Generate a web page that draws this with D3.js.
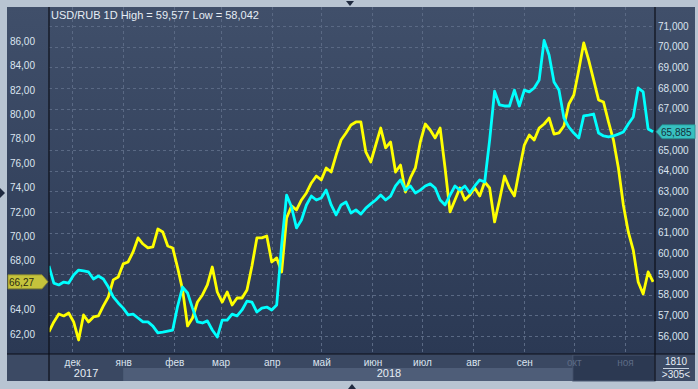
<!DOCTYPE html>
<html>
<head>
<meta charset="utf-8">
<script src="https://cdn.jsdelivr.net/npm/d3@7"></script>
<style>
body { margin: 0; background: #b8c4d2; }
svg { display: block; font-family: "Liberation Sans", Arial, sans-serif; }
</style>
</head>
<body>
<svg width="698" height="389"></svg>
<script>
// one sample every 3 days, 17 Nov 2017 .. 18 Nov 2018
const startDate = new Date(2017, 10, 17);
const dates = d3.range(123).map((i) => d3.timeDay.offset(startDate, i * 3));

// cyan, right axis
const usdRub = [
	59.39, 58.56, 58.47, 58.61, 58.56, 58.95, 59.19, 59.15, 59.10, 58.76,
	58.90, 58.76, 58.37, 57.89, 57.60, 57.35, 57.02, 57.06, 56.87, 56.68,
	56.68, 56.48, 56.15, 56.19, 56.24, 56.29, 57.45, 58.37, 58.08, 57.35,
	56.68, 56.63, 56.73, 56.29, 55.95, 56.77, 56.77, 57.06, 56.97, 57.26,
	57.69, 57.64, 57.16, 57.35, 57.40, 57.26, 57.50, 60.40, 62.82, 62.24,
	61.23, 61.61, 62.34, 62.77, 62.58, 62.68, 63.06, 62.34, 61.86, 62.34,
	62.48, 61.95, 62.10, 61.90, 62.19, 62.39, 62.58, 62.82, 62.58, 62.77,
	63.26, 63.55, 63.06, 63.26, 62.92, 63.06, 63.26, 63.36, 63.16, 62.58,
	62.34, 62.82, 63.26, 63.06, 63.26, 62.92, 63.26, 63.55, 63.45, 65.48,
	67.85, 67.18, 67.13, 67.13, 67.90, 67.13, 67.90, 67.81, 68.00, 68.39,
	70.30, 69.60, 68.29, 67.90, 66.55, 66.11, 65.82, 65.58, 66.65, 66.69,
	66.74, 65.82, 65.68, 65.63, 65.68, 65.77, 65.87, 66.26, 66.60, 68.00,
	67.81, 66.02, 65.885
];

// yellow, left axis
const brent = [
	62.17, 62.99, 63.64, 63.48, 63.72, 62.99, 61.51, 63.56, 62.99, 63.40,
	63.48, 64.30, 65.03, 66.43, 66.67, 67.74, 67.90, 68.72, 69.87, 69.37,
	69.05, 69.13, 70.60, 70.36, 69.21, 69.05, 67.41, 65.61, 62.66, 63.31,
	64.62, 65.20, 66.02, 67.49, 65.44, 64.62, 65.44, 64.38, 64.95, 64.95,
	65.61, 67.57, 69.87, 69.87, 70.03, 67.90, 68.23, 67.08, 71.50, 72.49,
	72.16, 72.98, 73.55, 74.37, 74.94, 74.62, 75.60, 75.27, 76.66, 77.89,
	78.47, 79.12, 79.37, 79.37, 76.91, 76.09, 77.48, 78.87, 77.24, 77.73,
	75.27, 75.84, 73.63, 74.78, 75.60, 77.73, 79.20, 78.71, 78.06, 78.87,
	75.60, 72.00, 72.98, 73.96, 72.98, 73.39, 73.96, 73.31, 74.45, 73.96,
	71.18, 72.98, 74.94, 73.96, 73.31, 75.43, 77.48, 78.30, 77.89, 78.87,
	79.20, 79.69, 78.38, 78.47, 79.04, 80.84, 81.58, 83.62, 85.84, 84.44,
	82.81, 81.17, 81.00, 79.37, 77.89, 75.60, 72.57, 70.36, 68.88, 66.26,
	65.28, 67.08, 66.27
];

const leftTicks = [62, 64, 66, 68, 70, 72, 74, 76, 78, 80, 82, 84, 86];
const rightTicks = d3.range(56, 72);
const monthDates = d3.timeMonth.range(new Date(2017, 11, 1), new Date(2018, 11, 1));
const monthLabels = ["дек", "янв", "фев", "мар", "апр", "май", "июн", "июл", "авг", "сен", "окт", "ноя"];
const years = [
	{ label: "2017", from: new Date(2017, 10, 17), to: new Date(2018, 0, 1) },
	{ label: "2018", from: new Date(2018, 0, 1), to: new Date(2018, 10, 19) }
];
const title = "USD/RUB 1D High = 59,577 Low = 58,042";

const ru = d3.formatLocale({ decimal: ",", thousands: " ", grouping: [3], currency: ["", ""] });
const fmt2 = ru.format(".2f");
const fmt3 = ru.format(".3f");

const svg = d3.select("svg");
const L = 49, R = 655, T = 7, B = 354;

const x = d3.scaleTime().domain([new Date(2017, 11, 1), new Date(2018, 10, 1)]).range([72, 625]);
const yL = d3.scaleLinear().domain([62, 86]).range([334, 41]);
const yR = d3.scaleLinear().domain([56, 71]).range([336, 26]);

const lastBrent = brent[brent.length - 1];
const lastRub = usdRub[usdRub.length - 1];

const defs = svg.append("defs");
const grad = defs.append("linearGradient").attr("id", "bg").attr("x1", 0).attr("y1", 0).attr("x2", 0).attr("y2", 1);
grad.append("stop").attr("offset", 0).attr("stop-color", "#404f6a");
grad.append("stop").attr("offset", 1).attr("stop-color", "#2b3954");
defs.append("clipPath").attr("id", "plot").append("rect")
	.attr("x", L).attr("y", T).attr("width", R - L).attr("height", B - T);

// frame arrows
svg.append("path").attr("d", "M346,1 L354,1 L350,6 Z").attr("fill", "#1f2a40");
svg.append("path").attr("d", "M348,389 L356,389 L352,384 Z").attr("fill", "#1f2a40");
svg.append("path").attr("d", "M0,188 L5,193 L0,198 Z").attr("fill", "#1f2a40");

// panel
svg.append("rect").attr("x", 7).attr("y", T).attr("width", 688).attr("height", B - T).attr("fill", "url(#bg)");
svg.append("rect").attr("x", 7).attr("y", B).attr("width", 688).attr("height", 27).attr("fill", "#3c4a64");

// bottom axis bands
svg.append("rect").attr("x", L).attr("y", B + 1).attr("width", R - L).attr("height", 26).attr("fill", "#3a4862");
svg.append("rect").attr("x", x(years[1].from)).attr("y", B + 14)
	.attr("width", x(new Date(2018, 9, 1)) - x(years[1].from)).attr("height", 13).attr("fill", "#4e5d78");
svg.append("rect").attr("x", x(new Date(2018, 9, 1)) - 1).attr("y", B + 1)
	.attr("width", R - x(new Date(2018, 9, 1)) + 1).attr("height", 26)
	.attr("fill", "#2c3952").attr("stroke", "#4a5872").attr("stroke-width", 1);

// grid
const grid = svg.append("g").attr("stroke", "#5a6984").attr("stroke-dasharray", "3,3").attr("stroke-width", 1);
grid.selectAll(".v").data(monthDates).join("line")
	.attr("x1", (d) => Math.round(x(d)) + 0.5).attr("x2", (d) => Math.round(x(d)) + 0.5)
	.attr("y1", T).attr("y2", B);
grid.selectAll(".h").data(rightTicks).join("line")
	.attr("x1", L).attr("x2", R)
	.attr("y1", (d) => Math.round(yR(d)) + 0.5).attr("y2", (d) => Math.round(yR(d)) + 0.5);

// lines
const plot = svg.append("g").attr("clip-path", "url(#plot)");
const lineL = d3.line().x((d, i) => x(dates[i])).y((d) => yL(d));
const lineR = d3.line().x((d, i) => x(dates[i])).y((d) => yR(d));
plot.append("path").datum(brent).attr("d", lineL)
	.attr("fill", "none").attr("stroke", "#ffff00").attr("stroke-width", 2.8).attr("stroke-linejoin", "round");
plot.append("path").datum(usdRub).attr("d", lineR)
	.attr("fill", "none").attr("stroke", "#00ffff").attr("stroke-width", 2.8).attr("stroke-linejoin", "round");

// dividers
svg.append("g").attr("stroke", "#0c0f18").attr("stroke-width", 1.2).selectAll("line")
	.data([[L, T, L, 381], [R, T, R, 381], [7, B, 695, B]]).join("line")
	.attr("x1", (d) => d[0]).attr("y1", (d) => d[1]).attr("x2", (d) => d[2]).attr("y2", (d) => d[3]);

// title
svg.append("text").attr("x", 51).attr("y", 19).attr("font-size", 11).attr("fill", "#e6edf5").text(title);

// axes (labels hidden where the last-value tags sit on top of them)
const axL = svg.append("g").attr("transform", "translate(36,0)")
	.call(d3.axisLeft(yL).tickValues(leftTicks.filter((v) => Math.abs(yL(v) - yL(lastBrent)) > 10))
		.tickSize(0).tickPadding(1).tickFormat(fmt2));
const axR = svg.append("g").attr("transform", `translate(${R},0)`)
	.call(d3.axisRight(yR).tickValues(rightTicks.filter((v) => Math.abs(yR(v) - yR(lastRub)) > 10))
		.tickSize(0).tickPadding(3).tickFormat(fmt3));
const axB = svg.append("g").attr("transform", `translate(0,${B + 5})`)
	.call(d3.axisBottom(x).tickValues(monthDates).tickSize(0).tickPadding(0).tickFormat((d, i) => monthLabels[i]));
[axL, axR, axB].forEach((a) => {
	a.select(".domain").remove();
	a.selectAll("text").attr("font-size", 10).attr("font-family", "'Liberation Sans', Arial, sans-serif").attr("fill", "#dbe4ef");
});
axB.selectAll("text").filter((d) => d >= new Date(2018, 9, 1)).attr("fill", "#5d6b85");

svg.append("g").selectAll("text").data(years).join("text")
	.attr("x", (d) => (Math.max(L, x(d.from)) + Math.min(R, x(d.to))) / 2)
	.attr("y", B + 23).attr("text-anchor", "middle").attr("font-size", 11).attr("fill", "#e6edf5")
	.text((d) => d.label);

// corner box
svg.append("text").attr("x", 676).attr("y", 365).attr("text-anchor", "middle").attr("font-size", 10).attr("fill", "#e6edf5").text("1810");
svg.append("line").attr("x1", 663).attr("x2", 689).attr("y1", 368.5).attr("y2", 368.5).attr("stroke", "#c8d2e0");
svg.append("text").attr("x", 676).attr("y", 378).attr("text-anchor", "middle").attr("font-size", 10).attr("fill", "#e6edf5").text(">305<");

// last value tags
const yb = yL(lastBrent);
svg.append("path").attr("d", `M8,${yb - 7} L42,${yb - 7} L48,${yb} L42,${yb + 7} L8,${yb + 7} Z`)
	.attr("fill", "#c5c33c").attr("stroke", "#8e8c2c").attr("stroke-width", 0.8);
svg.append("text").attr("x", 9).attr("y", yb + 4).attr("font-size", 10).attr("fill", "#2a2a12").text(fmt2(lastBrent));

const yu = yR(lastRub);
svg.append("path").attr("d", `M656,${yu} L662,${yu - 7} L695,${yu - 7} L695,${yu + 7} L662,${yu + 7} Z`)
	.attr("fill", "#37c0c0").attr("stroke", "#238a8a").attr("stroke-width", 0.8);
svg.append("text").attr("x", 661).attr("y", yu + 4).attr("font-size", 10).attr("fill", "#14303a").text(fmt3(lastRub));
</script>
</body>
</html>
